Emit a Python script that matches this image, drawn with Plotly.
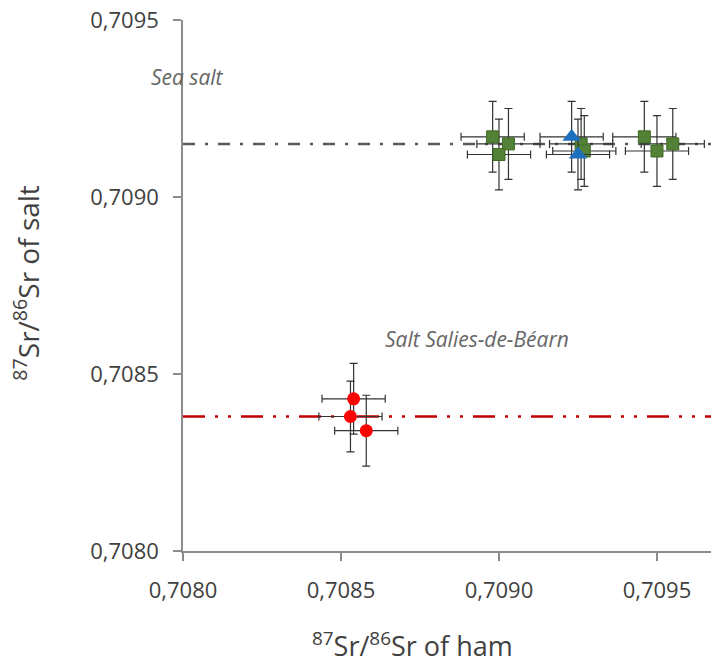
import plotly.graph_objects as go

# Data
red_x = [0.70854, 0.70853, 0.70858]
red_y = [0.70843, 0.70838, 0.70834]

green_x = [0.70898, 0.70903, 0.70900, 0.70926, 0.70927, 0.70946, 0.70950, 0.70955]
green_y = [0.70917, 0.70915, 0.70912, 0.70915, 0.70913, 0.70917, 0.70913, 0.70915]

blue_x = [0.70923, 0.70925]
blue_y = [0.70917, 0.70912]

err = 0.0001
sea_salt_level = 0.70915
salies_level = 0.70838

x_ticks = [0.7080, 0.7085, 0.7090, 0.7095]
y_ticks = [0.7080, 0.7085, 0.7090, 0.7095]
tick_text = ["0,7080", "0,7085", "0,7090", "0,7095"]

FONT = "Open Sans"
err_style = dict(type="constant", value=err, color="#333333", thickness=1.2, width=4)

fig = go.Figure()

fig.add_trace(go.Scatter(
    x=green_x, y=green_y, mode="markers",
    marker=dict(symbol="square", size=12, color="#538135", line=dict(color="#3d6b25", width=1)),
    error_x=err_style, error_y=err_style, showlegend=False))

fig.add_trace(go.Scatter(
    x=blue_x, y=blue_y, mode="markers",
    marker=dict(symbol="triangle-up", size=16, color="#1f6fbf", line=dict(width=0)),
    error_x=err_style, error_y=err_style, showlegend=False))

fig.add_trace(go.Scatter(
    x=red_x, y=red_y, mode="markers",
    marker=dict(symbol="circle", size=13, color="#ff0000", line=dict(width=0)),
    error_x=err_style, error_y=err_style, showlegend=False))

fig.add_shape(type="line", xref="paper", x0=0, x1=1, yref="y", y0=sea_salt_level, y1=sea_salt_level,
              line=dict(color="#595959", width=2.5, dash="12px,10px,3px,10px"), layer="below")
fig.add_shape(type="line", xref="paper", x0=0, x1=1, yref="y", y0=salies_level, y1=salies_level,
              line=dict(color="#c00000", width=2.5, dash="22px,10px,3px,10px,3px,10px"), layer="below")

fig.add_annotation(text="<i>Sea salt</i>", xref="paper", x=(149 - 183) / 528, xanchor="left",
                   yref="y", y=0.70934, yanchor="middle", showarrow=False,
                   font=dict(family=FONT, size=21, color="#666666"))
fig.add_annotation(text="<i>Salt Salies-de-Béarn</i>", xref="x", x=0.708632, xanchor="left",
                   yref="y", y=0.70860, yanchor="middle", showarrow=False,
                   font=dict(family=FONT, size=21, color="#666666"))

# Axis titles (positioned as in the reference)
fig.add_annotation(text="<sup>87</sup>Sr/<sup>86</sup>Sr of ham", xref="paper", x=(412 - 183) / 528,
                   xanchor="center", yref="paper", y=-(644 - 551) / 530.3, yanchor="middle",
                   showarrow=False, font=dict(family=FONT, size=27, color="#404040"))
fig.add_annotation(text="<sup>87</sup>Sr/<sup>86</sup>Sr of salt", xref="paper", x=(27 - 183) / 528,
                   xanchor="center", yref="paper", y=(551 - 283) / 530.3, yanchor="middle",
                   textangle=-90, showarrow=False, font=dict(family=FONT, size=28, color="#404040"))

axis_common = dict(
    showgrid=False, zeroline=False, showline=True, linecolor="#8c8c8c", linewidth=1.5,
    ticks="outside", ticklen=8, tickcolor="#8c8c8c", tickwidth=1.5,
    tickfont=dict(family=FONT, size=22, color="#404040"),
)

fig.update_layout(
    width=711, height=663,
    margin=dict(l=183, r=0, t=20, b=112),
    paper_bgcolor="white", plot_bgcolor="white",
    xaxis=dict(range=[0.7080, 0.709671], tickvals=x_ticks, ticktext=tick_text,
               ticklabelstandoff=11, **axis_common),
    yaxis=dict(range=[0.7080, 0.7095], tickvals=y_ticks, ticktext=tick_text,
               ticklabelstandoff=10, **axis_common),
)

fig.write_html("out.html")
